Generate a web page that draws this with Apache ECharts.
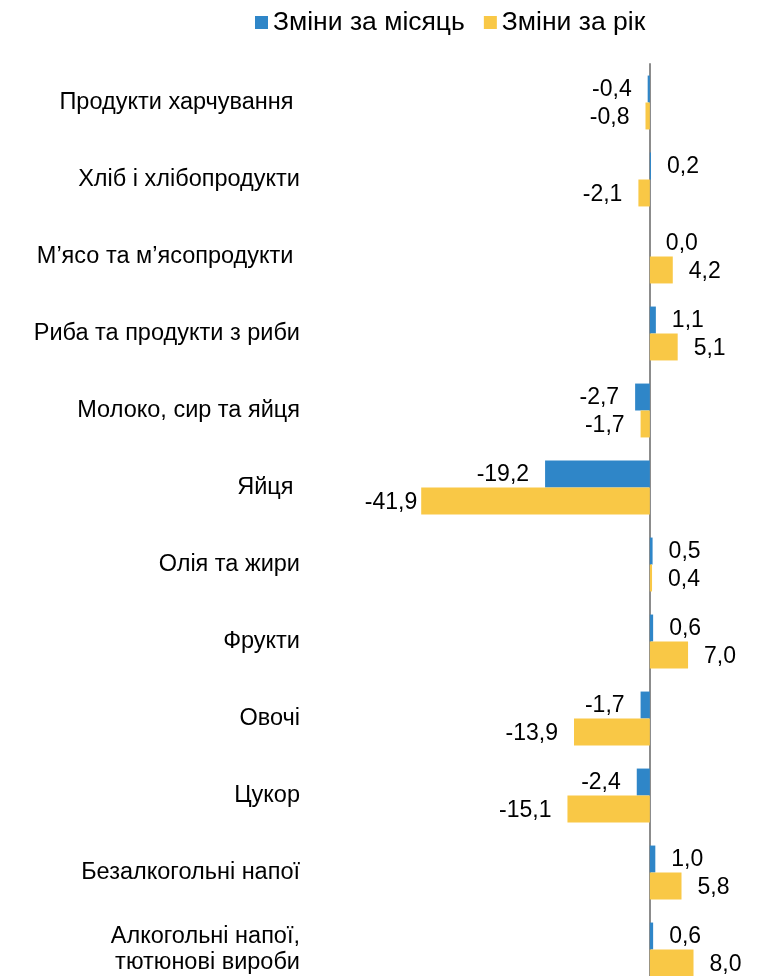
<!DOCTYPE html>
<html>
<head>
<meta charset="utf-8">
<script src="https://cdn.jsdelivr.net/npm/echarts@6/dist/echarts.min.js"></script>
<style>
html,body{margin:0;padding:0;background:#fff;}
#chart{width:767px;height:976px;}
</style>
</head>
<body>
<div id="chart"></div>
<script>
const categories = [
  'Продукти харчування ',
  'Хліб і хлібопродукти',
  'М’ясо та м’ясопродукти ',
  'Риба та продукти з риби',
  'Молоко, сир та яйця',
  'Яйця ',
  'Олія та жири',
  'Фрукти',
  'Овочі',
  'Цукор',
  'Безалкогольні напої',
  'Алкогольні напої,\nтютюнові вироби'
];
const seriesNames = ['Зміни за місяць', 'Зміни за рік'];
const monthly = [-0.4, 0.2, 0.0, 1.1, -2.7, -19.2, 0.5, 0.6, -1.7, -2.4, 1.0, 0.6];
const yearly = [-0.8, -2.1, 4.2, 5.1, -1.7, -41.9, 0.4, 7.0, -13.9, -15.1, 5.8, 8.0];

const FONT = 'Arial, "Liberation Sans", sans-serif';
function fmt(v){ return v.toFixed(1).replace('.', ','); }
function items(arr){
  const mn = Math.min.apply(null, arr);
  return arr.map(v => {
    const lab = { position: v < 0 ? 'left' : 'right' };
    // the longest bar's label is squeezed against the bar end (as in the source)
    if (v < -30 && v === mn) lab.distance = 4;
    return { value: v, label: lab };
  });
}

const chart = echarts.init(document.getElementById('chart'), null, {renderer:'canvas'});
chart.setOption({
  animation: false,
  backgroundColor: '#ffffff',
  legend: {
    data: seriesNames,
    left: 250,
    top: 4,
    itemWidth: 13,
    itemHeight: 13,
    itemGap: 19,
    icon: 'rect',
    textStyle: { fontFamily: FONT, fontSize: 26.5, color: '#000', lineHeight: 26 }
  },
  grid: { left: 377, width: 382, top: 64, bottom: -12, containLabel: false, outerBoundsMode: 'none' },
  xAxis: {
    type: 'value',
    min: -50,
    max: 20,
    show: false,
    splitLine: { show: false }
  },
  yAxis: {
    type: 'category',
    data: categories,
    inverse: true,
    axisTick: { show: false },
    axisLine: { show: true, onZero: true, lineStyle: { color: '#8c8c8c', width: 2 } },
    axisLabel: {
      margin: 77,
      fontFamily: FONT,
      fontSize: 23.5,
      color: '#000',
      lineHeight: 26,
      align: 'right'
    }
  },
  series: [
    {
      name: seriesNames[0],
      type: 'bar',
      data: items(monthly),
      barCategoryGap: '30%',
      barGap: '0%',
      itemStyle: { color: '#2F86C8' },
      label: {
        show: true,
        distance: 16,
        offset: [0, 1],
        fontFamily: FONT,
        fontSize: 23,
        color: '#000',
        formatter: p => fmt(p.value)
      }
    },
    {
      name: seriesNames[1],
      type: 'bar',
      data: items(yearly),
      barCategoryGap: '30%',
      barGap: '0%',
      itemStyle: { color: '#F9C846' },
      label: {
        show: true,
        distance: 16,
        offset: [0, 2],
        fontFamily: FONT,
        fontSize: 23,
        color: '#000',
        formatter: p => fmt(p.value)
      }
    }
  ]
});
</script>
</body>
</html>
